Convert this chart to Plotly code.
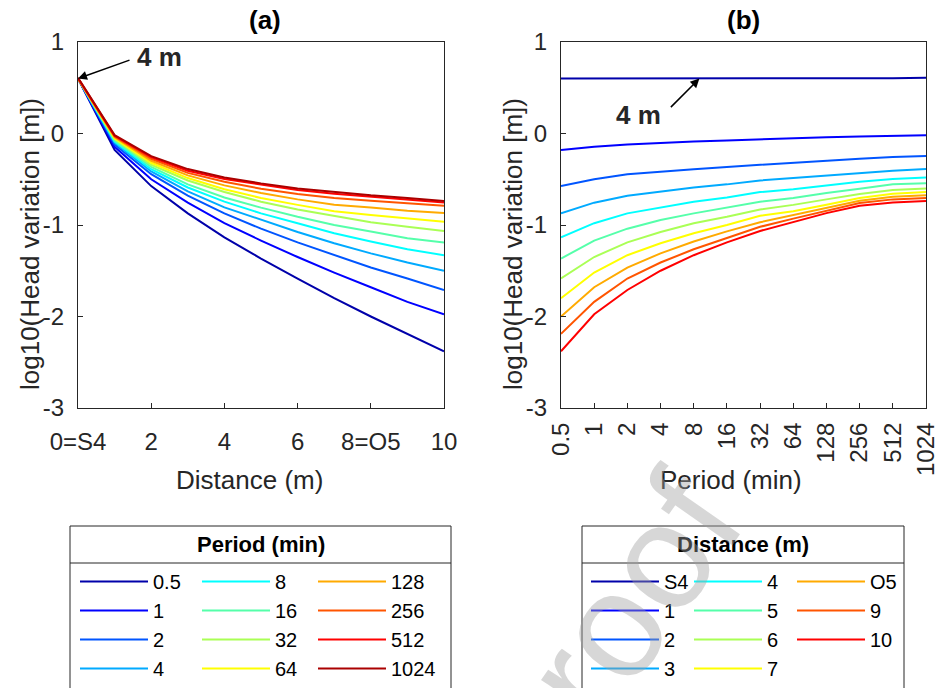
import plotly.graph_objects as go
import math

# ---------------- data ----------------
periods = [0.5, 1, 2, 4, 8, 16, 32, 64, 128, 256, 512, 1024]
period_labels = ["0.5", "1", "2", "4", "8", "16", "32", "64", "128", "256", "512", "1024"]
distances = [0, 1, 2, 3, 4, 5, 6, 7, 8, 9, 10]
distance_labels = ["S4", "1", "2", "3", "4", "5", "6", "7", "O5", "9", "10"]
dist_tick_vals = [0, 2, 4, 6, 8, 10]
dist_tick_text = ["0=S4", "2", "4", "6", "8=O5", "10"]
y_tick_vals = [-3, -2, -1, 0, 1]
y_tick_text = ["-3", "-2", "-1", "0", "1"]

# log10(head variation) for each distance (rows) and period (columns)
head_S4 = [0.60, 0.60, 0.60, 0.60, 0.60, 0.60, 0.60, 0.60, 0.60, 0.60, 0.605, 0.61]
head_1m = [-0.18, -0.145, -0.12, -0.10, -0.087, -0.076, -0.062, -0.051, -0.040, -0.033, -0.025, -0.018]
head_2m = [-0.575, -0.50, -0.445, -0.415, -0.39, -0.365, -0.342, -0.32, -0.298, -0.276, -0.258, -0.247]
head_3m = [-0.873, -0.756, -0.68, -0.633, -0.59, -0.556, -0.513, -0.487, -0.458, -0.43, -0.407, -0.389]
head_4m = [-1.135, -0.98, -0.873, -0.807, -0.745, -0.70, -0.64, -0.61, -0.567, -0.527, -0.498, -0.48]
head_5m = [-1.367, -1.17, -1.04, -0.945, -0.873, -0.81, -0.745, -0.705, -0.65, -0.604, -0.556, -0.545]
head_6m = [-1.585, -1.35, -1.19, -1.076, -0.98, -0.91, -0.83, -0.78, -0.72, -0.66, -0.618, -0.60]
head_7m = [-1.80, -1.52, -1.33, -1.20, -1.09, -1.00, -0.90, -0.85, -0.778, -0.705, -0.658, -0.64]
head_O5 = [-2.00, -1.68, -1.465, -1.31, -1.18, -1.07, -0.97, -0.89, -0.81, -0.735, -0.69, -0.676]
head_9m = [-2.19, -1.84, -1.585, -1.41, -1.265, -1.145, -1.02, -0.93, -0.845, -0.76, -0.72, -0.705]
head_10m = [-2.38, -1.975, -1.71, -1.50, -1.33, -1.19, -1.065, -0.965, -0.87, -0.79, -0.755, -0.737]

head = [head_S4, head_1m, head_2m, head_3m, head_4m, head_5m, head_6m,
        head_7m, head_O5, head_9m, head_10m]

# MATLAB jet(12)
jet12 = ["rgb(0,0,170)", "rgb(0,0,255)", "rgb(0,85,255)", "rgb(0,170,255)",
         "rgb(0,255,255)", "rgb(85,255,170)", "rgb(170,255,85)", "rgb(255,255,0)",
         "rgb(255,170,0)", "rgb(255,85,0)", "rgb(255,0,0)", "rgb(170,0,0)"]

# ---------------- figure ----------------
W, H = 937, 688
FONT = "Liberation Sans, Arial, sans-serif"
AX = "#262626"


def px_x(p):
    return p / W


def px_y(p):
    return 1 - p / H


fig = go.Figure()

legA = ["legend", "legend2", "legend3"]
legB = ["legend4", "legend5", "legend6"]

for j, per in enumerate(periods):
    fig.add_trace(go.Scatter(
        x=distances, y=[row[j] for row in head], mode="lines",
        line=dict(color=jet12[j], width=2), name=period_labels[j],
        legend=legA[j // 4], xaxis="x", yaxis="y"))

for i, d in enumerate(distances):
    fig.add_trace(go.Scatter(
        x=periods, y=head[i], mode="lines",
        line=dict(color=jet12[i], width=2), name=distance_labels[i],
        legend=legB[i // 4], xaxis="x2", yaxis="y2"))

tickfont = dict(family=FONT, size=24, color=AX)

common_y = dict(range=[-3, 1], tickvals=y_tick_vals, ticktext=y_tick_text,
                ticks="inside", ticklen=5,
                tickcolor=AX, showline=True, linecolor=AX, linewidth=1, mirror=True,
                showgrid=False, zeroline=False, tickfont=tickfont,
                ticklabelstandoff=8, automargin=False, ticklabeloverflow="allow",
                domain=[px_y(408), px_y(42)])

fig.update_layout(
    width=W, height=H, margin=dict(l=0, r=0, t=0, b=0, autoexpand=False),
    paper_bgcolor="white", plot_bgcolor="white",
    font=dict(family=FONT, color="black"),
    xaxis=dict(domain=[px_x(78), px_x(444)], range=[0, 10], tickvals=dist_tick_vals,
               ticktext=dist_tick_text, ticks="inside", ticklen=5, tickcolor=AX,
               showline=True, linecolor=AX, linewidth=1, mirror=True, showgrid=False,
               zeroline=False, tickfont=tickfont, ticklabelstandoff=12,
               automargin=False, ticklabeloverflow="allow", anchor="y"),
    yaxis=dict(anchor="x", **common_y),
    xaxis2=dict(domain=[px_x(561), px_x(926)], type="log",
                range=[math.log10(0.5), math.log10(1024)], tickvals=periods,
                ticktext=period_labels, tickangle=-90, ticks="inside", ticklen=5,
                tickcolor=AX, showline=True, linecolor=AX, linewidth=1, mirror=True,
                showgrid=False, zeroline=False, tickfont=tickfont, ticklabelstandoff=4,
                automargin=False, ticklabeloverflow="allow", anchor="y2"),
    yaxis2=dict(anchor="x2", **common_y),
    showlegend=True,
)

legfont = dict(family=FONT, size=20, color="black")
colA_x = [75, 197, 313]
colB_x = [586, 689, 792]
for keys, cols in [(legA, colA_x), (legB, colB_x)]:
    for key, xp in zip(keys, cols):
        fig.update_layout({key: dict(x=px_x(xp), y=px_y(562), xanchor="left", yanchor="top",
                                     orientation="v", bgcolor="rgba(0,0,0,0)",
                                     font=legfont, itemwidth=68, tracegroupgap=0,
                                     traceorder="normal")})

shapes = []
for (x0, x1) in [(70, 451), (582, 904)]:
    shapes.append(dict(type="rect", xref="paper", yref="paper", x0=px_x(x0), x1=px_x(x1),
                       y0=px_y(700), y1=px_y(526), line=dict(color=AX, width=1)))
    shapes.append(dict(type="line", xref="paper", yref="paper", x0=px_x(x0), x1=px_x(x1),
                       y0=px_y(563), y1=px_y(563), line=dict(color=AX, width=1)))
fig.update_layout(shapes=shapes)

ann = []


def txt(text, x, y, size, color="black", angle=0):
    ann.append(dict(text=text, x=px_x(x), y=px_y(y), xref="paper", yref="paper",
                    xanchor="center", yanchor="middle", showarrow=False, textangle=angle,
                    font=dict(family=FONT, size=size, color=color)))


# panel titles
txt("<b>(a)</b>", 265, 20, 26)
txt("<b>(b)</b>", 743, 20, 26)
# axis titles
txt("Distance (m)", 250, 480, 26, AX)
txt("Period (min)", 731, 480, 26, AX)
txt("log10(Head variation [m])", 30, 244, 26, AX, -90)
txt("log10(Head variation [m])", 513, 244, 26, AX, -90)
# legend titles
txt("<b>Period (min)</b>", 261, 544, 22)
txt("<b>Distance (m)</b>", 743, 544, 22)

# 4 m arrows
ann.append(dict(text="", x=0, y=head_S4[0], xref="x", yref="y", ax=53, ay=-19,
                showarrow=True, arrowhead=2, arrowsize=1.2, arrowwidth=1.5, arrowcolor="black"))
ann.append(dict(text="<b>4 m</b>", x=2.23, y=0.835, xref="x", yref="y", showarrow=False,
                xanchor="center", yanchor="middle",
                font=dict(family=FONT, size=26, color=AX)))
ann.append(dict(text="", x=math.log10(9), y=head_S4[4], xref="x2", yref="y2", ax=-30, ay=30,
                showarrow=True, arrowhead=2, arrowsize=1.2, arrowwidth=1.5, arrowcolor="black"))
ann.append(dict(text="<b>4 m</b>", x=math.log10(2.53), y=0.2, xref="x2", yref="y2",
                xanchor="center", yanchor="middle",
                showarrow=False, font=dict(family=FONT, size=26, color=AX)))
# watermark of the source page
txt("proof", 608, 632, 150, "rgba(160,160,160,0.42)", -55)
fig.update_layout(annotations=ann)

fig.write_html("out.html", config={"displayModeBar": False},
               post_script="document.body.style.margin='0';"
                           "document.body.style.overflow='hidden';")
